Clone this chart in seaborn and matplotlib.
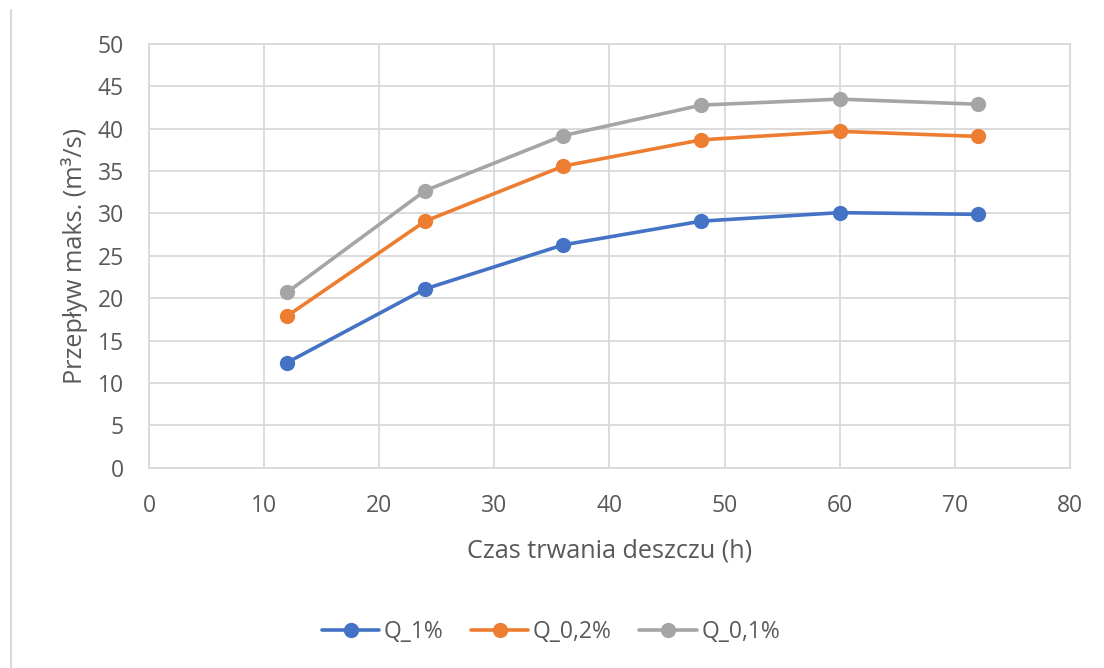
import matplotlib
matplotlib.use("Agg")
import matplotlib.pyplot as plt
from matplotlib.lines import Line2D
import pandas as pd
import seaborn as sns

# Rain duration (h) and peak discharge (m3/s) for three return probabilities
durations = [12, 24, 36, 48, 60, 72]
q_1 = [12.4, 21.1, 26.3, 29.1, 30.1, 29.9]
q_02 = [17.9, 29.1, 35.6, 38.7, 39.7, 39.1]
q_01 = [20.7, 32.7, 39.2, 42.8, 43.5, 42.9]
series_names = ["Q_1%", "Q_0,2%", "Q_0,1%"]
colors = ["#4472C4", "#ED7D31", "#A5A5A5"]

x_ticks = [0, 10, 20, 30, 40, 50, 60, 70, 80]
y_ticks = [0, 5, 10, 15, 20, 25, 30, 35, 40, 45, 50]

df = pd.concat([
    pd.DataFrame({"t": durations, "q": vals, "seria": name})
    for name, vals in zip(series_names, [q_1, q_02, q_01])
])

sns.set_theme(style="white")
plt.rcParams["font.family"] = ["Open Sans", "DejaVu Sans"]
text_color = "#595959"
grid_color = "#D9D9D9"
fs = 16.5
fs_label = 18.2

fig = plt.figure(figsize=(11.04, 6.68), dpi=100)
ax = fig.add_axes([0.135, 0.300, 0.834, 0.634])

sns.lineplot(data=df, x="t", y="q", hue="seria", hue_order=series_names,
             palette=colors, marker="o", markersize=11, markeredgewidth=0,
             linewidth=2.6, ax=ax, legend=False, zorder=3)

ax.set_xlim(0, 80)
ax.set_ylim(0, 50)
ax.set_xticks(x_ticks)
ax.set_yticks(y_ticks)
ax.set_xticklabels([str(v) for v in x_ticks])
ax.set_yticklabels([str(v) for v in y_ticks])
ax.tick_params(axis="both", length=0, labelsize=fs, colors=text_color)
ax.tick_params(axis="x", pad=19)
ax.tick_params(axis="y", pad=18)

ax.grid(True, color=grid_color, linewidth=1.3)
ax.set_axisbelow(True)
for side in ["left", "right", "top", "bottom"]:
    ax.spines[side].set_visible(True)
    ax.spines[side].set_color(grid_color)
    ax.spines[side].set_linewidth(1.3)

ax.set_xlabel("Czas trwania deszczu (h)", fontsize=fs_label, color=text_color, labelpad=15)
ax.set_ylabel("Przepływ maks. (m³/s)", fontsize=fs_label, color=text_color, labelpad=7)

handles = [Line2D([0], [0], color=c, linewidth=2.6, marker="o", markersize=11,
                  markeredgewidth=0) for c in colors]
fig.legend(handles, series_names, loc="center", bbox_to_anchor=(0.499, 0.054),
           ncol=3, frameon=False, fontsize=fs, labelcolor=text_color,
           handlelength=2.5, handletextpad=0.2, columnspacing=1.2)

# chart frame edge on the left side
fig.add_artist(Line2D([11 / 1104, 11 / 1104], [0, 1 - 10 / 668],
                      transform=fig.transFigure, color="#D9D9D9", linewidth=1.5))

fig.savefig("out.png", dpi=100)
